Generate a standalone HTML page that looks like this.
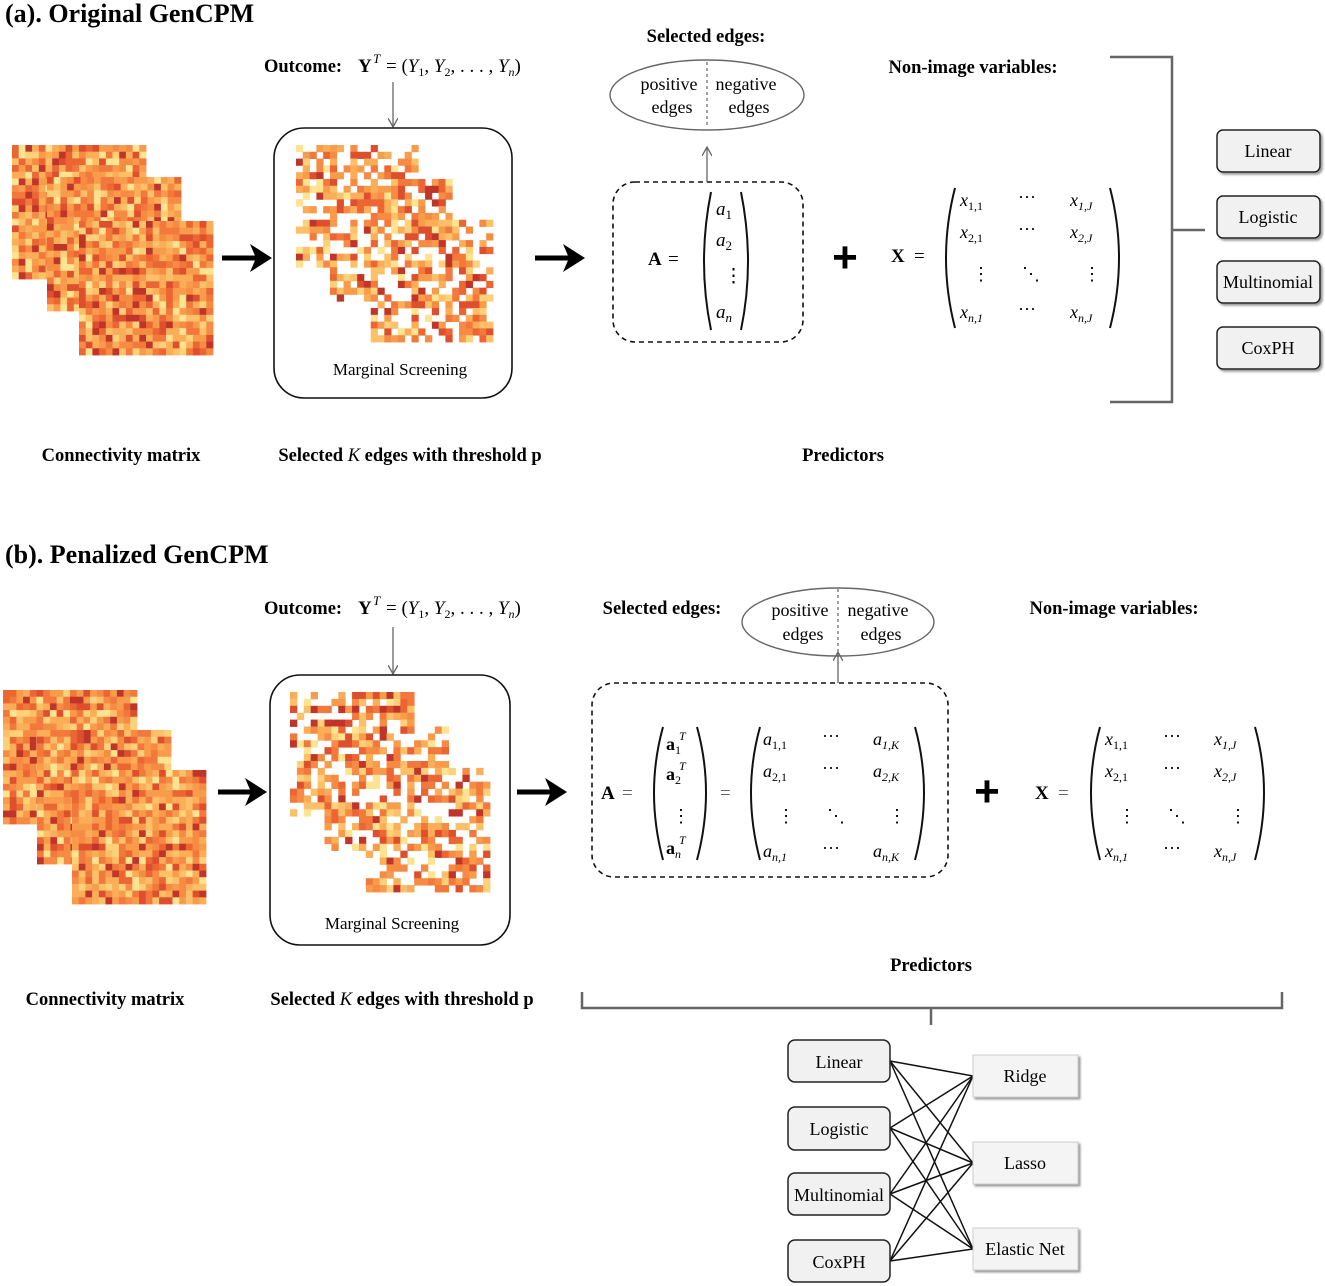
<!DOCTYPE html>
<html><head><meta charset="utf-8"><style>
html,body{margin:0;padding:0;background:#fff;}
svg{display:block;font-family:"Liberation Serif",serif;font-size:18px;}
.b{font-weight:bold;font-size:18.5px;}
.t{font-weight:bold;font-size:26px;}
.m{font-style:italic;}
.mb{font-weight:bold;}
.par{fill:none;stroke:#111;stroke-width:2;}
.box{fill:#f1f1f1;stroke:#222;stroke-width:1.5;}
</style></head><body>
<svg id="s" width="1325" height="1286" viewBox="0 0 1325 1286" xmlns="http://www.w3.org/2000/svg">
<defs>
<marker id="ah" markerWidth="10" markerHeight="10" refX="8" refY="5" orient="auto" markerUnits="userSpaceOnUse"><path d="M0,0 L9,5 L0,10" fill="none" stroke="#666" stroke-width="1.3"/></marker>
<filter id="sh"><feDropShadow dx="2" dy="2" stdDeviation="1" flood-color="#999"/></filter>
</defs>
<g id="heat"></g>

<!-- ===== (a) ===== -->
<text x="5" y="22" class="t">(a). Original GenCPM</text>
<text x="264" y="72" class="b">Outcome:</text>
<text x="358" y="72" class="mb" font-size="19">Y</text><text x="373" y="63" class="m" font-size="13">T</text>
<text x="386" y="72" font-size="19">= (<tspan font-style="italic">Y</tspan><tspan font-size="12" dy="4">1</tspan><tspan dy="-4">, </tspan><tspan font-style="italic">Y</tspan><tspan font-size="12" dy="4">2</tspan><tspan dy="-4">, . . . , </tspan><tspan font-style="italic">Y</tspan><tspan font-size="12" dy="4" font-style="italic">n</tspan><tspan dy="-4">)</tspan></text>
<line x1="393" y1="82" x2="393" y2="126" stroke="#666" stroke-width="1.3" marker-end="url(#ah)"/>
<rect x="274" y="128" width="238" height="270" rx="30" fill="none" stroke="#111" stroke-width="1.6"/>
<text x="400" y="375" font-size="17" text-anchor="middle">Marginal Screening</text>
<path d="M222,258 H258" stroke="#000" stroke-width="5"/><path d="M250,244 L272,258 L250,272 L256,258Z" fill="#000"/>
<path d="M535,258 H571" stroke="#000" stroke-width="5"/><path d="M563,244 L585,258 L563,272 L569,258Z" fill="#000"/>

<text x="706" y="42" class="b" text-anchor="middle">Selected edges:</text>
<ellipse cx="707" cy="95" rx="97" ry="35" fill="none" stroke="#666" stroke-width="1.4"/>
<line x1="707" y1="62" x2="707" y2="128" stroke="#444" stroke-dasharray="3,3"/>
<text x="669" y="90" text-anchor="middle">positive</text><text x="672" y="113" text-anchor="middle">edges</text>
<text x="746" y="90" text-anchor="middle">negative</text><text x="749" y="113" text-anchor="middle">edges</text>
<line x1="707" y1="182" x2="707" y2="148" stroke="#666" stroke-width="1.3" marker-end="url(#ah)"/>
<rect x="613" y="182" width="190" height="160" rx="22" fill="none" stroke="#111" stroke-width="1.6" stroke-dasharray="5,4"/>
<text x="648" y="265" class="mb" font-size="19">A</text><text x="668" y="265" font-size="19">=</text>
<path class="par" d="M711,192 Q697,262 711,330"/><path class="par" d="M741,192 Q755,262 741,330"/>
<text x="716" y="215" class="m" font-size="19">a<tspan font-size="13" dy="4" font-style="normal">1</tspan></text>
<text x="716" y="246" class="m" font-size="19">a<tspan font-size="13" dy="4" font-style="normal">2</tspan></text>
<text x="724" y="282" font-size="19">⋮</text>
<text x="716" y="318" class="m" font-size="19">a<tspan font-size="13" dy="4">n</tspan></text>
<text x="845" y="272" font-size="44" font-weight="bold" text-anchor="middle" font-family="Liberation Sans,sans-serif">+</text>
<text x="891" y="262" class="mb" font-size="19">X</text><text x="914" y="262" font-size="19">=</text>
<path class="par" d="M955,188 Q937,258 955,328"/><path class="par" d="M1110,188 Q1128,258 1110,328"/>
<g class="m" font-size="18">
<text x="960" y="206">x<tspan font-size="12" dy="4" font-style="normal">1,1</tspan></text><text x="1018" y="203" font-style="normal">···</text><text x="1070" y="206">x<tspan font-size="12" dy="4">1,J</tspan></text>
<text x="960" y="238">x<tspan font-size="12" dy="4" font-style="normal">2,1</tspan></text><text x="1018" y="235" font-style="normal">···</text><text x="1070" y="238">x<tspan font-size="12" dy="4">2,J</tspan></text>
<text x="972" y="280" font-style="normal">⋮</text><text x="1022" y="280" font-style="normal">⋱</text><text x="1083" y="280" font-style="normal">⋮</text>
<text x="960" y="318">x<tspan font-size="12" dy="4">n,1</tspan></text><text x="1018" y="315" font-style="normal">···</text><text x="1070" y="318">x<tspan font-size="12" dy="4">n,J</tspan></text>
</g>
<text x="973" y="73" class="b" text-anchor="middle">Non-image variables:</text>
<path d="M1110,57 H1172 V402 H1110 M1172,230 H1205" fill="none" stroke="#666" stroke-width="2.5"/>
<g filter="url(#sh)">
<rect class="box" x="1217" y="130" width="103" height="42" rx="6"/>
<rect class="box" x="1217" y="196" width="103" height="42" rx="6"/>
<rect class="box" x="1217" y="261" width="103" height="42" rx="6"/>
<rect class="box" x="1217" y="327" width="103" height="42" rx="6"/>
</g>
<g font-size="18" text-anchor="middle">
<text x="1268" y="157">Linear</text><text x="1268" y="223">Logistic</text><text x="1268" y="288">Multinomial</text><text x="1268" y="354">CoxPH</text>
</g>
<text x="121" y="461" class="b" text-anchor="middle">Connectivity matrix</text>
<text x="410" y="461" class="b" text-anchor="middle">Selected <tspan font-style="italic" font-weight="normal">K</tspan> edges with threshold p</text>
<text x="843" y="461" class="b" text-anchor="middle">Predictors</text>

<!-- ===== (b) ===== -->
<text x="5" y="563" class="t">(b). Penalized GenCPM</text>
<text x="264" y="614" class="b">Outcome:</text>
<text x="358" y="614" class="mb" font-size="19">Y</text><text x="373" y="605" class="m" font-size="13">T</text>
<text x="386" y="614" font-size="19">= (<tspan font-style="italic">Y</tspan><tspan font-size="12" dy="4">1</tspan><tspan dy="-4">, </tspan><tspan font-style="italic">Y</tspan><tspan font-size="12" dy="4">2</tspan><tspan dy="-4">, . . . , </tspan><tspan font-style="italic">Y</tspan><tspan font-size="12" dy="4" font-style="italic">n</tspan><tspan dy="-4">)</tspan></text>
<line x1="393" y1="627" x2="393" y2="673" stroke="#666" stroke-width="1.3" marker-end="url(#ah)"/>
<rect x="270" y="675" width="240" height="270" rx="30" fill="none" stroke="#111" stroke-width="1.6"/>
<text x="392" y="929" font-size="17" text-anchor="middle">Marginal Screening</text>
<path d="M218,792 H253" stroke="#000" stroke-width="5"/><path d="M245,778 L267,792 L245,806 L251,792Z" fill="#000"/>
<path d="M517,792 H553" stroke="#000" stroke-width="5"/><path d="M545,778 L567,792 L545,806 L551,792Z" fill="#000"/>

<text x="662" y="614" class="b" text-anchor="middle">Selected edges:</text>
<ellipse cx="838" cy="622" rx="96" ry="34" fill="none" stroke="#666" stroke-width="1.4"/>
<line x1="838" y1="589" x2="838" y2="655" stroke="#444" stroke-dasharray="3,3"/>
<text x="800" y="616" text-anchor="middle">positive</text><text x="803" y="640" text-anchor="middle">edges</text>
<text x="878" y="616" text-anchor="middle">negative</text><text x="881" y="640" text-anchor="middle">edges</text>
<line x1="838" y1="683" x2="838" y2="653" stroke="#666" stroke-width="1.3" marker-end="url(#ah)"/>
<rect x="592" y="683" width="356" height="194" rx="22" fill="none" stroke="#111" stroke-width="1.6" stroke-dasharray="5,4"/>
<text x="601" y="799" class="mb" font-size="19">A</text><text x="622" y="799" font-size="19" fill="#666">=</text>
<path class="par" d="M663,727 Q645,792 663,860"/><path class="par" d="M697,727 Q715,792 697,860"/>
<g class="mb" font-size="18">
<text x="666" y="750">a<tspan font-size="12" dy="4" font-weight="normal">1</tspan></text><text x="679" y="740" font-style="italic" font-weight="normal" font-size="12">T</text>
<text x="666" y="780">a<tspan font-size="12" dy="4" font-weight="normal">2</tspan></text><text x="679" y="770" font-style="italic" font-weight="normal" font-size="12">T</text>
<text x="672" y="822" font-weight="normal">⋮</text>
<text x="666" y="854">a<tspan font-size="12" dy="4" font-weight="normal" font-style="italic">n</tspan></text><text x="679" y="844" font-style="italic" font-weight="normal" font-size="12">T</text>
</g>
<text x="720" y="799" font-size="19" fill="#666">=</text>
<path class="par" d="M760,727 Q742,792 760,860"/><path class="par" d="M915,727 Q933,792 915,860"/>
<g class="m" font-size="18">
<text x="763" y="745">a<tspan font-size="12" dy="4" font-style="normal">1,1</tspan></text><text x="822" y="742" font-style="normal">···</text><text x="873" y="745">a<tspan font-size="12" dy="4">1,K</tspan></text>
<text x="763" y="777">a<tspan font-size="12" dy="4" font-style="normal">2,1</tspan></text><text x="822" y="774" font-style="normal">···</text><text x="873" y="777">a<tspan font-size="12" dy="4">2,K</tspan></text>
<text x="777" y="822" font-style="normal">⋮</text><text x="827" y="822" font-style="normal">⋱</text><text x="888" y="822" font-style="normal">⋮</text>
<text x="763" y="857">a<tspan font-size="12" dy="4">n,1</tspan></text><text x="822" y="854" font-style="normal">···</text><text x="873" y="857">a<tspan font-size="12" dy="4">n,K</tspan></text>
</g>
<text x="987" y="806" font-size="44" font-weight="bold" text-anchor="middle" font-family="Liberation Sans,sans-serif">+</text>
<text x="1035" y="799" class="mb" font-size="19">X</text><text x="1058" y="799" font-size="19" fill="#666">=</text>
<path class="par" d="M1100,727 Q1082,792 1100,860"/><path class="par" d="M1255,727 Q1273,792 1255,860"/>
<g class="m" font-size="18">
<text x="1105" y="745">x<tspan font-size="12" dy="4" font-style="normal">1,1</tspan></text><text x="1163" y="742" font-style="normal">···</text><text x="1214" y="745">x<tspan font-size="12" dy="4">1,J</tspan></text>
<text x="1105" y="777">x<tspan font-size="12" dy="4" font-style="normal">2,1</tspan></text><text x="1163" y="774" font-style="normal">···</text><text x="1214" y="777">x<tspan font-size="12" dy="4">2,J</tspan></text>
<text x="1118" y="822" font-style="normal">⋮</text><text x="1168" y="822" font-style="normal">⋱</text><text x="1229" y="822" font-style="normal">⋮</text>
<text x="1105" y="857">x<tspan font-size="12" dy="4">n,1</tspan></text><text x="1163" y="854" font-style="normal">···</text><text x="1214" y="857">x<tspan font-size="12" dy="4">n,J</tspan></text>
</g>
<text x="1114" y="614" class="b" text-anchor="middle">Non-image variables:</text>
<text x="931" y="971" class="b" text-anchor="middle">Predictors</text>
<path d="M582,992 V1008 H1282 V992 M931,1008 V1025" fill="none" stroke="#666" stroke-width="2.5"/>
<text x="105" y="1005" class="b" text-anchor="middle">Connectivity matrix</text>
<text x="402" y="1005" class="b" text-anchor="middle">Selected <tspan font-style="italic" font-weight="normal">K</tspan> edges with threshold p</text>

<g stroke="#111" stroke-width="1.5">
<line x1="890" y1="1061" x2="973" y2="1076"/><line x1="890" y1="1061" x2="973" y2="1163"/><line x1="890" y1="1061" x2="973" y2="1249"/>
<line x1="890" y1="1128" x2="973" y2="1076"/><line x1="890" y1="1128" x2="973" y2="1163"/><line x1="890" y1="1128" x2="973" y2="1249"/>
<line x1="890" y1="1194" x2="973" y2="1076"/><line x1="890" y1="1194" x2="973" y2="1163"/><line x1="890" y1="1194" x2="973" y2="1249"/>
<line x1="890" y1="1261" x2="973" y2="1076"/><line x1="890" y1="1261" x2="973" y2="1163"/><line x1="890" y1="1261" x2="973" y2="1249"/>
</g>
<g>
<rect class="box" x="788" y="1040" width="102" height="42" rx="7"/>
<rect class="box" x="788" y="1107" width="102" height="43" rx="7"/>
<rect class="box" x="788" y="1173" width="102" height="42" rx="7"/>
<rect class="box" x="788" y="1240" width="102" height="42" rx="7"/>
</g>
<g filter="url(#sh)">
<rect x="973" y="1055" width="105" height="42" fill="#f4f4f4" stroke="#ccc"/>
<rect x="973" y="1142" width="105" height="42" fill="#f4f4f4" stroke="#ccc"/>
<rect x="973" y="1228" width="105" height="42" fill="#f4f4f4" stroke="#ccc"/>
</g>
<g font-size="18" text-anchor="middle">
<text x="839" y="1068">Linear</text><text x="839" y="1135">Logistic</text><text x="839" y="1201">Multinomial</text><text x="839" y="1268">CoxPH</text>
<text x="1025" y="1082">Ridge</text><text x="1025" y="1169">Lasso</text><text x="1025" y="1255">Elastic Net</text>
</g>
</svg>
<script>
(function(){
var seed=12345;function r(){seed=(seed*16807)%2147483647;return seed/2147483647;}
var cols=["#fee391","#fdd17a","#fcc068","#fbad58","#f89c4c","#f68b44","#f2783c","#ec6634","#de4f2d","#c0352a"];
function col(){var v=(r()+r()+r())/3;v=Math.min(9,Math.max(0,Math.floor((v-0.5)*1.6*10+5)));return cols[v];}
var g=document.getElementById("heat"),out=[];
function sq(x,y,s,n){var c=s/n;for(var i=0;i<n;i++)for(var j=0;j<n;j++)out.push('<rect x="'+(x+j*c).toFixed(2)+'" y="'+(y+i*c).toFixed(2)+'" width="'+(c+0.4).toFixed(2)+'" height="'+(c+0.4).toFixed(2)+'" fill="'+col()+'"/>');}
function stack(a){for(var k=0;k<3;k++)sq(a[k][0],a[k][1],a[k][2],20);}
stack([[12,145,134],[47,177,134],[79,221,134]]);
stack([[3,690,134],[37,730,134],[72,770,134]]);
function sparse(x0,y0,s){var n=29,c=s/n;var sh=[[0,0],[5,5],[11,11]];
for(var i=0;i<n;i++)for(var j=0;j<n;j++){var inn=false;for(var k=0;k<3;k++){var a=sh[k];if(i>=a[1]&&i<a[1]+18&&j>=a[0]&&j<a[0]+18)inn=true;}
if(!inn)continue;if(r()<0.38)continue;
out.push('<rect x="'+(x0+j*c).toFixed(2)+'" y="'+(y0+i*c).toFixed(2)+'" width="'+(c+0.4).toFixed(2)+'" height="'+(c+0.4).toFixed(2)+'" fill="'+col()+'"/>');}}
sparse(296,145,197);
sparse(290,692,200);
g.innerHTML=out.join("");
})();
</script>
</body></html>
